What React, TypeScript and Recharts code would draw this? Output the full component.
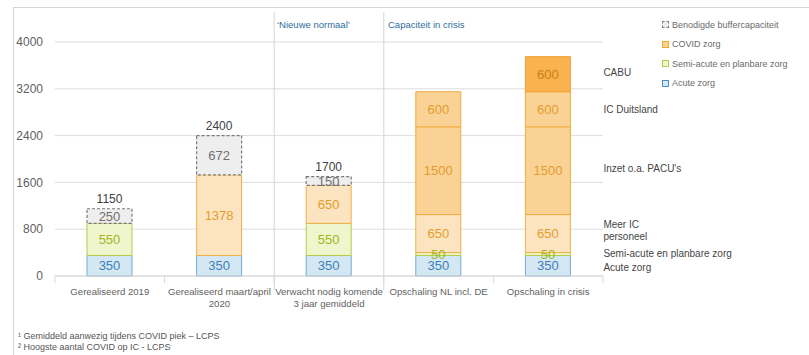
import React from 'react';
import { BarChart, Bar, XAxis, YAxis, CartesianGrid, LabelList, ReferenceLine } from 'recharts';

// Categories (line breaks mark wrapped axis labels)
const categories = [
  'Gerealiseerd 2019',
  'Gerealiseerd maart/april\n2020',
  'Verwacht nodig komende\n3 jaar gemiddeld',
  'Opschaling NL incl. DE',
  'Opschaling in crisis',
];

// IC-bedden per component
const acuteZorg = [350, 350, 350, 350, 350];
const semiAcuteZorg = [550, 0, 550, 50, 50];
const covidZorg = [0, 1378, 650, 650, 650];
const inzetPacu = [0, 0, 0, 1500, 1500];
const icDuitsland = [0, 0, 0, 600, 600];
const cabu = [0, 0, 0, 0, 600];
const bufferCapaciteit = [250, 672, 150, 0, 0];
const totals = [1150, 2400, 1700, 3150, 3750];

const yTicks = [0, 800, 1600, 2400, 3200, 4000];
const boundaries = [0, 1, 2, 3, 4, 5];
const sectionDividers = [2, 3];

// Notes printed beside the crisis column, one per segment (bottom to top)
const segmentNotes = [
  'Acute zorg',
  'Semi-acute en planbare zorg',
  'Meer IC\npersoneel',
  "Inzet o.a. PACU's",
  'IC Duitsland',
  'CABU',
];
// small vertical nudges (px) so neighbouring notes do not collide
const noteNudge = [2, -1, 0, -2, 0, -2];

const FONT = "'Liberation Sans', Arial, sans-serif";

const data = categories.map((name, i) => ({
  name,
  slot: i + 0.5,
  acute: acuteZorg[i],
  semi: semiAcuteZorg[i],
  covid: covidZorg[i],
  pacu: inzetPacu[i],
  icde: icDuitsland[i],
  cabu: cabu[i],
  buffer: bufferCapaciteit[i],
  total: totals[i],
}));

// segment midpoints of the last column (in data units)
const lastIdx = categories.length - 1;
const lastSegments = [acuteZorg, semiAcuteZorg, covidZorg, inzetPacu, icDuitsland, cabu].map((s) => s[lastIdx]);
const noteMids: number[] = [];
lastSegments.reduce((base, v) => {
  noteMids.push(base + v / 2);
  return base + v;
}, 0);

const hideZero = (v: any) => (v ? v : '');

const CategoryTick = (props: any) => {
  const { x, y, payload } = props;
  const lines = String(payload.value).split('\n');
  return (
    <text x={x} y={y} textAnchor="middle" fill="#5f5f5f" fontSize={9.6} fontFamily={FONT}>
      {lines.map((l, i) => (
        <tspan key={i} x={x} dy={i === 0 ? 11 : 12}>
          {l}
        </tspan>
      ))}
    </text>
  );
};

// Draws the segment notes to the right of the last column, using the
// pixel scale of the base (acute) segment of that column.
const SegmentNotes = (props: any) => {
  if (props.index !== lastIdx) return null;
  const vb = props.viewBox && props.viewBox.width != null ? props.viewBox : props;
  const base = acuteZorg[lastIdx];
  if (!vb || !vb.height || !base) return null;
  const bottom = vb.y + vb.height;
  const pxPerUnit = vb.height / base;
  const x = vb.x + vb.width + 33;
  return (
    <g>
      {segmentNotes.map((note, i) => {
        const lines = note.split('\n');
        const cy = bottom - noteMids[i] * pxPerUnit + noteNudge[i];
        const startY = cy - (lines.length - 1) * 6 - (lines.length > 1 ? 3 : 0) + 3.5;
        return (
          <text key={i} x={x} y={startY} fill="#454545" fontSize={10} fontFamily={FONT}>
            {lines.map((l, j) => (
              <tspan key={j} x={x} dy={j === 0 ? 0 : 12}>
                {l}
              </tspan>
            ))}
          </text>
        );
      })}
    </g>
  );
};

const dividerShape = (props: any) => {
  const bottom = Math.max(props.y1, props.y2);
  const top = Math.min(props.y1, props.y2);
  return <line x1={props.x1} x2={props.x1} y1={top - 30} y2={bottom + 14} stroke="#cfd6dc" strokeWidth={1} />;
};

const boundaryShape = (props: any) => {
  const bottom = Math.max(props.y1, props.y2);
  return <line x1={props.x1} x2={props.x1} y1={bottom} y2={bottom + 7} stroke="#d9d9d9" strokeWidth={1} />;
};

const legendItems = [
  { label: 'Benodigde buffercapaciteit', fill: '#eeeeee', stroke: '#7f7f7f', dashed: true },
  { label: 'COVID zorg', fill: '#fbd296', stroke: '#f0a630', dashed: false },
  { label: 'Semi-acute en planbare zorg', fill: '#eff5cc', stroke: '#b7cb47', dashed: false },
  { label: 'Acute zorg', fill: '#d4e8f4', stroke: '#4f8fc4', dashed: false },
];

const segLabel = { fontSize: 13, fontFamily: FONT };

export default function App() {
  return (
    <div
      style={{
        position: 'absolute',
        left: 0,
        top: 0,
        width: 809,
        height: 355,
        background: '#fff',
        fontFamily: FONT,
        overflow: 'hidden',
      }}
    >
      {/* frame */}
      <div style={{ position: 'absolute', left: 13, top: 7, width: 800, height: 360, borderLeft: '1px solid #d6d6d6', borderTop: '1px solid #d6d6d6' }} />
      <BarChart
        width={809}
        height={355}
        data={data}
        margin={{ top: 42, right: 206, bottom: 49, left: 15 }}
        style={{ position: 'absolute', left: 0, top: 0 }}
      >
        <CartesianGrid vertical={false} stroke="#dcdcdc" />
        <XAxis
          dataKey="name"
          axisLine={{ stroke: '#d9d9d9' }}
          tickLine={false}
          interval={0}
          height={30}
          tick={<CategoryTick />}
        />
        <XAxis xAxisId="grid" dataKey="slot" type="number" domain={[0, 5]} hide />
        <YAxis
          domain={[0, 4000]}
          ticks={yTicks}
          width={40}
          axisLine={false}
          tickLine={false}
          tickMargin={6}
          tick={{ fill: '#5f5f5f', fontSize: 12, fontFamily: FONT }}
        />
        {boundaries.map((b) => (
          <ReferenceLine key={`b${b}`} xAxisId="grid" x={b} shape={boundaryShape} />
        ))}
        {sectionDividers.map((b) => (
          <ReferenceLine key={`d${b}`} xAxisId="grid" x={b} shape={dividerShape} />
        ))}
        <Bar dataKey="acute" stackId="a" barSize={45} fill="#d4e8f4" stroke="#74a9d2" isAnimationActive={false}>
          <LabelList dataKey="acute" position="center" fill="#3f7fb4" formatter={hideZero} style={segLabel} />
          <LabelList dataKey="acute" content={SegmentNotes} />
        </Bar>
        <Bar dataKey="semi" stackId="a" barSize={45} fill="#eff5cc" stroke="#b7cb47" isAnimationActive={false}>
          <LabelList dataKey="semi" position="center" fill="#a3b523" formatter={hideZero} style={segLabel} />
        </Bar>
        <Bar dataKey="covid" stackId="a" barSize={45} fill="#fde4c0" stroke="#f0b04a" isAnimationActive={false}>
          <LabelList dataKey="covid" position="center" fill="#e39d2c" formatter={hideZero} style={segLabel} />
        </Bar>
        <Bar dataKey="pacu" stackId="a" barSize={45} fill="#fbd296" stroke="#f0ac3e" isAnimationActive={false}>
          <LabelList dataKey="pacu" position="center" fill="#e39d2c" formatter={hideZero} style={segLabel} />
        </Bar>
        <Bar dataKey="icde" stackId="a" barSize={45} fill="#fbd296" stroke="#f0ac3e" isAnimationActive={false}>
          <LabelList dataKey="icde" position="center" fill="#e39d2c" formatter={hideZero} style={segLabel} />
        </Bar>
        <Bar dataKey="cabu" stackId="a" barSize={45} fill="#f9b24f" stroke="#f0a030" isAnimationActive={false}>
          <LabelList dataKey="cabu" position="center" fill="#c9800f" formatter={hideZero} style={segLabel} />
        </Bar>
        <Bar
          dataKey="buffer"
          stackId="a"
          barSize={45}
          fill="#eeeeee"
          stroke="#7a7a7a"
          strokeDasharray="3 2"
          strokeWidth={1.2}
          isAnimationActive={false}
        >
          <LabelList dataKey="buffer" position="center" fill="#6e6e6e" formatter={hideZero} style={segLabel} />
          <LabelList dataKey="total" position="top" offset={6} fill="#404040" style={{ fontSize: 12, fontFamily: FONT }} />
        </Bar>
      </BarChart>

      {/* section headers */}
      <div style={{ position: 'absolute', left: 277, top: 19, fontSize: 9.5, color: '#2f6e9c' }}>‘Nieuwe normaal’</div>
      <div style={{ position: 'absolute', left: 388, top: 19, fontSize: 9.5, color: '#2f6e9c' }}>Capaciteit in crisis</div>

      {/* legend */}
      <div style={{ position: 'absolute', left: 662, top: 15, fontSize: 9, color: '#6a6a6a' }}>
        {legendItems.map((it) => (
          <div key={it.label} style={{ display: 'flex', alignItems: 'center', height: 19.5 }}>
            <span
              style={{
                display: 'inline-block',
                width: 5,
                height: 5,
                background: it.fill,
                border: `1.2px ${it.dashed ? 'dashed' : 'solid'} ${it.stroke}`,
                marginRight: 3,
              }}
            />
            {it.label}
          </div>
        ))}
      </div>

      {/* footnotes */}
      <div style={{ position: 'absolute', left: 18, top: 331, fontSize: 9, color: '#555', lineHeight: '11px' }}>
        <div>¹ Gemiddeld aanwezig tijdens COVID piek – LCPS</div>
        <div>² Hoogste aantal COVID op IC - LCPS</div>
      </div>
    </div>
  );
}
